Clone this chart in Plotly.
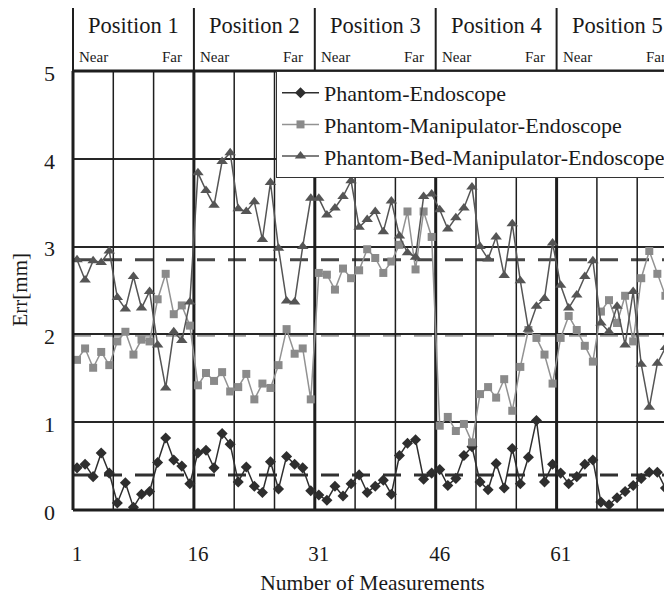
import plotly.graph_objects as go

# ---------------- data ----------------
measurement = list(range(1, 76))

endo = [0.48, 0.52, 0.38, 0.65, 0.42, 0.08, 0.31, 0.03, 0.18, 0.21, 0.54, 0.82, 0.57, 0.50, 0.30,
        0.65, 0.68, 0.48, 0.87, 0.75, 0.32, 0.49, 0.27, 0.20, 0.55, 0.24, 0.61, 0.52, 0.48, 0.22,
        0.17, 0.11, 0.27, 0.16, 0.30, 0.40, 0.20, 0.27, 0.34, 0.18, 0.62, 0.76, 0.80, 0.35, 0.42,
        0.46, 0.28, 0.36, 0.62, 0.72, 0.32, 0.23, 0.53, 0.25, 0.70, 0.30, 0.60, 1.02, 0.32, 0.52,
        0.42, 0.30, 0.38, 0.52, 0.57, 0.09, 0.06, 0.14, 0.21, 0.28, 0.36, 0.43, 0.43, 0.25, 0.13]

manip = [1.71, 1.84, 1.62, 1.80, 1.65, 1.92, 2.03, 1.77, 1.94, 1.92, 2.40, 2.69, 2.23, 2.33, 2.10,
         1.42, 1.56, 1.47, 1.57, 1.35, 1.40, 1.55, 1.26, 1.44, 1.39, 1.65, 2.06, 1.78, 1.84, 1.26,
         2.70, 2.68, 2.51, 2.75, 2.64, 2.73, 2.97, 2.87, 2.70, 2.83, 3.02, 3.40, 2.74, 3.40, 3.11,
         0.96, 1.06, 0.90, 0.98, 0.77, 1.32, 1.40, 1.28, 1.49, 1.13, 1.63, 2.05, 1.96, 1.77, 1.44,
         1.96, 2.21, 2.05, 1.87, 1.69, 2.26, 2.39, 2.13, 2.44, 1.92, 2.64, 2.95, 2.69, 2.44, 1.90]

bed = [2.85, 2.62, 2.84, 2.82, 2.95, 2.42, 2.29, 2.66, 2.30, 2.49, 1.88, 1.39, 2.03, 1.93, 2.37,
       3.84, 3.64, 3.47, 3.97, 4.07, 3.43, 3.40, 3.51, 3.08, 3.73, 2.98, 2.38, 2.37, 3.00, 3.55,
       3.55, 3.36, 3.44, 3.57, 3.75, 3.22, 3.31, 3.40, 3.17, 3.52, 3.12, 2.93, 2.88, 3.57, 3.60,
       3.42, 3.20, 3.33, 3.44, 3.68, 3.00, 2.86, 3.11, 2.67, 3.26, 2.61, 2.06, 2.32, 2.41, 3.04,
       2.56, 2.30, 2.45, 2.66, 2.84, 2.13, 2.03, 2.32, 1.88, 2.49, 1.66, 1.17, 1.67, 1.85, 2.51]

series_names = ["Phantom-Endoscope", "Phantom-Manipulator-Endoscope",
                "Phantom-Bed-Manipulator-Endoscope"]
mean_levels = [0.40, 1.99, 2.85]          # dashed reference lines
position_labels = ["Position 1", "Position 2", "Position 3", "Position 4", "Position 5"]
near_far = ["Near", "Far"]
tick_labels = ["1", "16", "31", "46", "61"]
y_ticks = [0, 1, 2, 3, 4, 5]
x_title = "Number of Measurements"
y_title = "Err[mm]"
per_position = 15
per_column = 5

# ---------------- layout geometry (page pixels; the page body has an 8px margin) ----------------
OFF = 8
PAGE_W, PAGE_H = 672, 597
W, H = PAGE_W - OFF, PAGE_H - OFF
PLOT_LEFT, PLOT_TOP, PLOT_BOTTOM = 73, 71, 510
ML, MT, MB = PLOT_LEFT - OFF, PLOT_TOP - OFF, PAGE_H - PLOT_BOTTOM
plot_w = PAGE_W - PLOT_LEFT
plot_h = PLOT_BOTTOM - PLOT_TOP
step = 8.06                                  # px per measurement
x_lo = 0.5
x_hi = x_lo + plot_w / step

FONT = "Liberation Serif, Times New Roman, Times, serif"
TXT = "#1a1a1a"
LINE = "#1e1e1e"


def py(p):
    """page pixel row -> paper y"""
    return (PLOT_BOTTOM - p) / plot_h


def px(p):
    """page pixel column -> paper x"""
    return (p - PLOT_LEFT) / plot_w


fig = go.Figure()

styles = [
    dict(color="#2e2e2e", symbol="diamond", size=8.5, line="#2e2e2e"),
    dict(color="#8a8a8a", symbol="square", size=8, line="#929292"),
    dict(color="#555555", symbol="triangle-up", size=10, line="#555555"),
]
for name, ys, st in zip(series_names, [endo, manip, bed], styles):
    fig.add_trace(go.Scatter(
        x=measurement, y=ys, name=name, mode="lines+markers",
        line=dict(color=st["line"], width=1.5),
        marker=dict(symbol=st["symbol"], size=st["size"], color=st["color"], line=dict(width=0)),
    ))

shapes = []
# mean dashed lines
mean_colors = ["#303030", "#9a9a9a", "#474747"]
for lvl, c in zip(mean_levels, mean_colors):
    shapes.append(dict(type="line", xref="paper", x0=0, x1=1, yref="y", y0=lvl, y1=lvl,
                       line=dict(color=c, width=3, dash="18px,13px"), layer="between"))

# vertical column / position lines
n_cols = len(position_labels) * per_position // per_column
for k in range(1, n_cols + 1):
    xb = x_lo + k * per_column
    thick = (k * per_column) % per_position == 0
    shapes.append(dict(type="line", xref="x", x0=xb, x1=xb, yref="y", y0=0, y1=5,
                       line=dict(color=LINE, width=3 if thick else 1.5), layer="between"))
    if thick:
        shapes.append(dict(type="line", xref="x", x0=xb, x1=xb, yref="paper", y0=1, y1=py(7),
                           line=dict(color=LINE, width=2), layer="between"))

# borders
shapes.append(dict(type="line", xref="paper", x0=0, x1=0, yref="paper", y0=0, y1=1,
                   line=dict(color=LINE, width=3), layer="above"))
shapes.append(dict(type="line", xref="paper", x0=0, x1=0, yref="paper", y0=1, y1=py(7),
                   line=dict(color=LINE, width=2), layer="above"))
shapes.append(dict(type="line", xref="paper", x0=0, x1=1, yref="paper", y0=1, y1=1,
                   line=dict(color=LINE, width=3), layer="above"))
shapes.append(dict(type="line", xref="paper", x0=0, x1=1, yref="paper", y0=0, y1=0,
                   line=dict(color=LINE, width=3), layer="above"))

annotations = []
for i, lab in enumerate(position_labels):
    left = x_lo + i * per_position
    annotations.append(dict(text=lab, xref="x", yref="paper", x=left + per_position / 2, y=py(26),
                            xanchor="center", yanchor="middle", showarrow=False,
                            font=dict(family=FONT, size=22.5, color=TXT)))
    annotations.append(dict(text=near_far[0], xref="x", yref="paper", x=left + 0.55, y=py(57),
                            xanchor="left", yanchor="middle", showarrow=False,
                            font=dict(family=FONT, size=15, color=TXT)))
    annotations.append(dict(text=near_far[1], xref="x", yref="paper", x=left + per_position - 1.2,
                            y=py(57), xanchor="right", yanchor="middle", showarrow=False,
                            font=dict(family=FONT, size=15, color=TXT)))

# y-axis title
annotations.append(dict(text=y_title, xref="paper", yref="paper", x=px(19), y=0.5,
                        xanchor="center", yanchor="middle", textangle=-90, showarrow=False,
                        font=dict(family=FONT, size=21, color=TXT)))

fig.update_layout(
    width=W, height=H,
    margin=dict(l=ML, r=0, t=MT, b=MB, autoexpand=False),
    paper_bgcolor="white", plot_bgcolor="white",
    font=dict(family=FONT, size=21, color=TXT),
    shapes=shapes, annotations=annotations,
    showlegend=True,
    legend=dict(x=px(276), y=1, xanchor="left", yanchor="top",
                bgcolor="white", bordercolor="#333333", borderwidth=1,
                font=dict(family=FONT, size=22, color=TXT), itemwidth=37,
                tracegroupgap=0),
    xaxis=dict(range=[x_lo, x_hi], showgrid=False, zeroline=False, showline=False,
               tickvals=[int(t) for t in tick_labels], ticktext=tick_labels, ticks="",
               tickfont=dict(family=FONT, size=21, color=TXT), ticklabelstandoff=29,
               title=dict(text=x_title, standoff=9,
                          font=dict(family=FONT, size=21.5, color=TXT)),
               automargin=False),
    yaxis=dict(range=[0, 5], tickvals=y_ticks, showgrid=True, gridcolor="#262626", gridwidth=1.5,
               zeroline=False, showline=False, ticks="",
               tickfont=dict(family=FONT, size=22, color=TXT), ticklabelstandoff=17,
               ticklabelshift=2, automargin=False),
)

fig.write_html("out.html")
